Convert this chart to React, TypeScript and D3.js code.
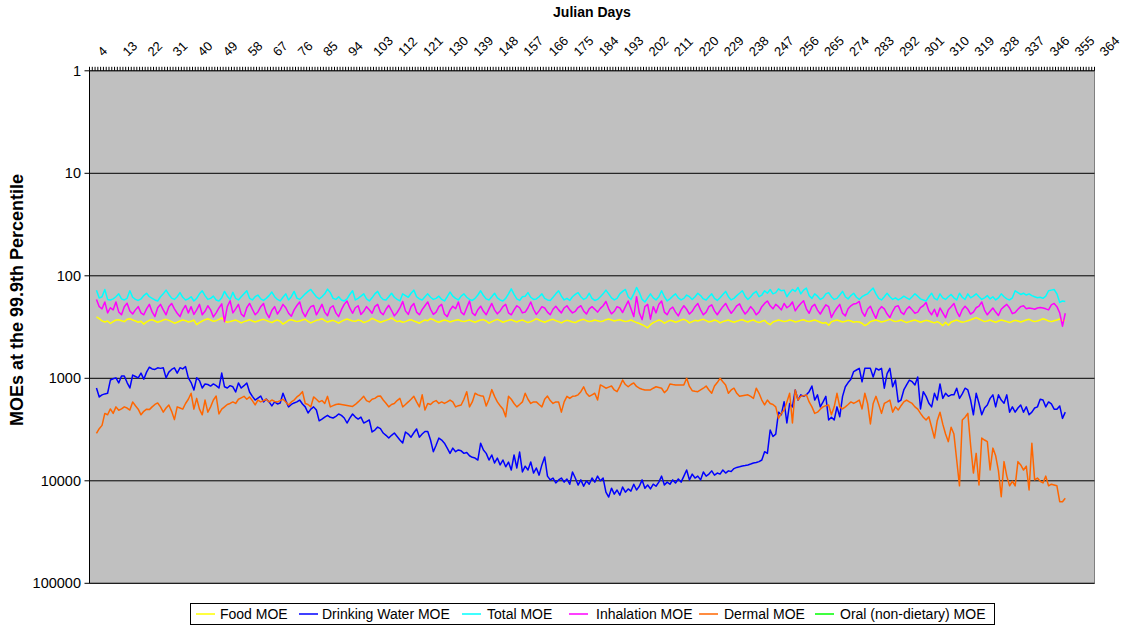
import React from 'react';
import * as d3 from 'd3';

// Julian day categories on the top axis (labels every 9th day)
const dayLabels = [4, 13, 22, 31, 40, 49, 58, 67, 76, 85, 94, 103, 112, 121, 130, 139, 148, 157, 166, 175, 184, 193, 202, 211, 220, 229, 238, 247, 256, 265, 274, 283, 292, 301, 310, 319, 328, 337, 346, 355, 364];
const firstCategory = 4;
const lastCategory = 364;
const firstDataDay = 6;

const yTicks = [1, 10, 100, 1000, 10000, 100000];

const foodMoe = [
  252, 262, 275, 282, 276, 292, 280, 270, 268, 274,
  280, 266, 262, 270, 276, 284, 278, 296, 282, 272,
  268, 276, 284, 278, 270, 266, 272, 280, 290, 284,
  276, 270, 274, 282, 278, 270, 300, 286, 276, 268,
  262, 270, 278, 274, 266, 258, 276, 284, 280, 274,
  270, 278, 288, 280, 274, 268, 276, 282, 276, 270,
  266, 272, 280, 286, 276, 270, 278, 296, 284, 272,
  268, 274, 280, 276, 270, 266, 278, 288, 280, 272,
  268, 262, 274, 282, 276, 272, 280, 290, 278, 270,
  264, 270, 276, 278, 270, 274, 286, 280, 272,
  260, 268, 276, 284, 278, 272, 266, 258, 270, 280,
  276, 284, 280, 272, 268, 276, 282, 290, 278, 270,
  274, 262, 268, 278, 284, 276, 270, 274, 282, 276,
  272, 268, 276, 280, 274, 270, 278, 284, 276, 270,
  268, 276, 290, 280, 272, 266, 274, 284, 278, 272,
  268, 276, 282, 274, 270, 278, 286, 280, 272, 262,
  270, 278, 284, 276, 270, 266, 274, 280, 288, 278,
  272, 276, 282, 286, 276, 270, 266, 274, 280, 276,
  270, 274, 280, 276, 268, 264, 270, 276, 272, 268,
  274, 280, 276, 270, 278, 286, 292, 300, 310, 322,
  300, 286, 278, 270, 276, 290, 280, 272, 276, 284,
  278, 270, 266, 274, 288, 280, 272, 276, 270, 266,
  274, 282, 278, 270, 276, 288, 280, 274, 270, 278,
  284, 278, 272, 268, 276, 282, 274, 270, 280, 286,
  278, 272, 290, 300, 282, 276, 270, 274, 280, 276,
  270, 274, 282, 278, 272, 268, 276, 280, 274, 270,
  276, 284, 290, 286, 304, 280, 274, 270, 276, 282,
  278, 272, 276, 284, 280, 282, 290, 306, 296,
  280, 274, 270, 276, 282, 278, 272, 266, 274, 280,
  276, 270, 278, 286, 280, 274, 270, 276, 284, 278,
  272, 276, 282, 288, 280, 290, 306, 284, 304, 282,
  276, 270, 278, 284, 280, 274, 268, 262, 256, 264,
  272, 280, 276, 270, 278, 284, 276, 270, 274, 280,
  286, 278, 272, 276, 282, 276, 270, 266, 274, 280,
  276, 270, 262, 268, 276, 280, 274, 270, 264, 276,
  272,
];

const drinkingWaterMoe = [
  1244, 1520, 1450, 1420, 1400, 1040, 1010, 990, 1110, 950,
  950, 1100, 1244, 930, 960, 990, 890, 1020, 870, 780,
  810, 820, 790, 800, 790, 990, 870, 820, 790, 890,
  790, 810, 770, 990, 1100, 1300, 990, 1050, 1244, 1136,
  1150, 1190, 1136, 1180, 1244, 890, 1210, 1244, 1180, 1210,
  1360, 1110, 1244, 1180, 1110, 1360, 1500, 1630, 1560, 1490,
  1700, 1590, 1700, 1860, 1700, 1780, 1740, 1400, 1650, 1900,
  1800, 1740, 1700, 1630, 1780, 1900, 2180, 2000, 1900, 2040,
  2600, 2500, 2390, 2300, 2400, 2440, 2350, 2230, 2300, 2440,
  2730, 2450, 2230, 2390, 2500, 2390, 2730, 2650, 2550,
  3340, 3200, 2990, 3100, 3420, 3600, 3830, 3600, 3420, 3700,
  4000, 4280, 3340, 3500, 3750, 3400, 3120, 3750, 3500, 3300,
  3300, 4000, 5200, 4500, 3830, 4000, 4300, 4800, 5400, 4800,
  5200, 5000, 5100, 5400, 5300, 5700, 5900, 6000, 6270, 4300,
  5000, 5400, 6270, 5600, 6700, 6000, 7000, 6270, 7300, 6560,
  7850, 5600, 7500, 5240, 8200, 7200, 7850, 6560, 8400, 7500,
  8800, 7000, 5850, 9000, 9800, 9400, 10500, 9800, 9400, 10300,
  9600, 10800, 8200, 9400, 11000, 9800, 11300, 10000, 10800, 9400,
  10300, 9000, 10000, 9400, 12900, 14400, 11800, 13500, 12300, 13800,
  11500, 12900, 12000, 12600, 10800, 12300, 11300, 9800, 11800, 11000,
  12000, 10800, 11300, 10300, 9000, 11000, 10300, 10800, 9800, 10500,
  9600, 10300, 9000, 7850, 9800, 8600, 9400, 9000, 9800, 8200,
  9000, 8600, 8000, 8800, 8400, 8600, 7850, 8400, 8000, 8100,
  7600, 7400, 7300, 7180, 7100, 7000, 6860, 6700, 6630, 6500,
  6270, 5200, 5400, 3200, 3700, 3500, 2140, 2270, 1690, 2730,
  1760, 1900, 1300, 1630, 1450, 1500, 1450, 1350, 1190, 1630,
  1450, 1900, 1700, 1500, 2550, 2400, 2550, 1900, 2370, 1500,
  1210, 1100, 1020, 860, 830, 800, 1080, 800, 800,
  800, 970, 800, 830, 800, 1250, 900, 800, 1210, 1040,
  1700, 1630, 1300, 1160, 1040, 1080, 1160, 970, 1990, 1350,
  1500, 1750, 1900, 1400, 1630, 1136, 1570, 1400, 1500, 1450,
  1450, 1250, 1570, 1420, 1250, 1300, 1630, 2270, 1400, 1750,
  2270, 1950, 1820, 1570, 1450, 1900, 1450, 1630, 1750, 1450,
  2140, 1900, 2140, 1950, 1820, 2140, 1900, 2270, 2140, 1950,
  1900, 1600, 1630, 1900, 1700, 1780, 2000, 2000, 1860, 2460,
  2140,
];

const totalMoe = [
  138, 165, 160, 136, 170, 172, 168, 160, 150, 168,
  172, 166, 140, 162, 170, 174, 168, 156, 148, 160,
  166, 172, 176, 160, 150, 138, 152, 165, 170, 160,
  146, 162, 172, 168, 160, 176, 166, 150, 140, 156,
  170, 166, 158, 172, 176, 164, 142, 158, 170, 145,
  166, 172, 160, 150, 140, 166, 172, 160, 154, 168,
  174, 166, 156, 144, 160, 170, 176, 162, 150, 172,
  160, 142, 165, 170, 160, 150, 142, 136, 148, 160,
  168, 160, 150, 135, 146, 166, 170, 160, 172, 176,
  168, 152, 140, 172, 166, 158, 150, 168, 176,
  164, 150, 142, 160, 170, 172, 160, 148, 162, 170,
  176, 150, 156, 162, 148, 138, 160, 168, 172, 160,
  150, 162, 170, 166, 158, 170, 176, 160, 144, 158,
  166, 172, 158, 150, 162, 170, 174, 166, 154, 140,
  156, 168, 172, 160, 148, 164, 172, 176, 166, 150,
  134, 152, 168, 174, 160, 158, 146, 162, 170, 168,
  160, 150, 166, 172, 174, 162, 150, 140, 158, 172,
  166, 174, 160, 152, 146, 160, 170, 164, 148, 166,
  174, 170, 160, 150, 138, 150, 164, 172, 166, 150,
  142, 136, 160, 170, 150, 130, 146, 170, 180, 164,
  150, 164, 172, 160, 140, 160, 176, 168, 158, 150,
  164, 172, 166, 154, 160, 170, 160, 148, 156, 168,
  172, 160, 150, 166, 174, 164, 152, 142, 160, 172,
  166, 156, 148, 140, 158, 170, 160, 148, 142, 160,
  154, 140, 148, 136, 150, 146, 134, 140, 138, 160,
  146, 136, 142, 130, 150, 138, 132, 156, 166, 150,
  158, 170, 164, 150, 146, 160, 170, 166, 154, 142,
  160, 168, 156, 148, 162, 170, 160, 154, 150,
  140, 132, 150, 166, 172, 160, 148, 160, 170, 164,
  172, 166, 158, 164, 170, 160, 150, 158, 168, 172,
  176, 160, 148, 166, 172, 150, 164, 170, 160, 152,
  164, 172, 148, 162, 170, 150, 164, 158, 150, 160,
  170, 164, 156, 168, 160, 172, 164, 150, 160, 168,
  172, 164, 140, 146, 152, 148, 154, 150, 156, 160,
  164, 162, 166, 158, 140, 138, 136, 150, 182, 176,
  178,
];

const inhalationMoe = [
  170, 200, 210, 180, 230, 205, 215, 180, 225, 240,
  200, 185, 220, 236, 215, 200, 230, 240, 210, 190,
  225, 250, 205, 190, 215, 240, 200, 186, 210, 232,
  250, 215, 195, 230, 200, 238, 215, 190, 240, 222,
  196, 215, 252, 230, 206, 188, 280, 200, 175, 230,
  210, 190, 236, 250, 205, 186, 212, 240, 225, 200,
  186, 230, 256, 218, 200, 236, 215, 190, 205, 232,
  248, 215, 195, 180, 225, 250, 220, 200, 195, 240,
  215, 190, 226, 245, 205, 196, 230, 250, 214, 190,
  176, 206, 232, 205, 196, 238, 222, 200, 214,
  232, 200, 190, 226, 240, 212, 194, 218, 246, 228,
  206, 178, 220, 238, 200, 186, 226, 240, 214, 196,
  180, 212, 238, 226, 200, 190, 236, 250, 216, 198,
  210, 180, 226, 240, 205, 176, 230, 244, 214, 198,
  222, 240, 210, 186, 215, 235, 220, 200, 190, 230,
  240, 215, 196, 205, 230, 226, 205, 180, 212, 238,
  220, 200, 206, 226, 240, 212, 198, 215, 230, 206,
  196, 215, 230, 222, 204, 196, 220, 236, 210, 200,
  212, 226, 208, 196, 178, 210, 235, 222, 200, 206,
  228, 200, 176, 210, 250, 160, 230, 268, 200, 190,
  265, 200, 230, 190, 176, 226, 240, 212, 202, 226,
  246, 215, 196, 212, 236, 222, 200, 186, 215, 240,
  226, 200, 192, 220, 240, 218, 200, 186, 210, 232,
  215, 196, 188, 214, 236, 220, 200, 215, 240, 226,
  200, 186, 176, 196, 210, 190, 200, 215, 186, 205,
  196, 180, 220, 200, 186, 175, 210, 232, 200, 190,
  216, 236, 212, 192, 200, 255, 226, 206, 190, 232,
  246, 210, 196, 188, 186, 178, 225, 248, 212,
  198, 230, 260, 216, 200, 210, 236, 255, 222, 200,
  196, 226, 238, 212, 200, 215, 232, 226, 204, 196,
  182, 220, 240, 212, 250, 206, 230, 256, 214, 200,
  186, 222, 250, 214, 198, 212, 236, 226, 205, 198,
  180, 216, 240, 222, 206, 226, 244, 212, 200, 190,
  206, 234, 228, 212, 200, 196, 210, 206, 208, 212,
  206, 204, 206, 210, 215, 192, 186, 200, 230, 310,
  232,
];

const dermalMoe = [
  3450, 3100, 2880, 2200, 2270, 1990, 2200, 1900, 2050, 1990,
  1900, 1950, 2040, 1700, 1850, 2000, 2270, 2100, 2000, 2020,
  1900, 1800, 1740, 1900, 2140, 1950, 1820, 2100, 2530, 1900,
  1950, 2000, 1760, 1600, 1400, 2000, 1570, 2000, 2270, 1630,
  2140, 1900, 1630, 1490, 2230, 2000, 1900, 1800, 1760, 1700,
  1760, 1600, 1550, 1500, 1600, 1520, 1650, 1820, 1630, 1700,
  1650, 1600, 1700, 1630, 1680, 1700, 1650, 1600, 1700, 1820,
  1700, 1630, 1520, 1450, 1350, 1760, 1800, 1900, 1520, 1600,
  1700, 1650, 1760, 1500, 1900, 1850, 1800, 1780, 1800, 1820,
  1840, 1860, 1880, 1800, 1700, 1600, 1500, 1650, 1700,
  1600, 1570, 1500, 1490, 1630, 1750, 1900, 1800, 1760, 1650,
  1570, 1900, 1800, 1700, 1600, 1500, 1700, 1900, 1450, 2040,
  1760, 1800, 1700, 1650, 1760, 1700, 1760, 1700, 1630, 1700,
  1900, 1850, 1820, 1600, 1350, 1900, 1700, 1400, 1450, 1480,
  1500, 1860, 1600, 1290, 1500, 1700, 1850, 1990, 2370, 1500,
  1600, 1760, 1900, 1800, 1700, 1400, 1600, 1760, 1700, 1700,
  1800, 1900, 1600, 1490, 1650, 1760, 1700, 1700, 2140, 1700,
  1500, 1570, 1500, 1490, 1450, 1350, 1210, 1400, 1500, 1450,
  1400, 1630, 1160, 1200, 1250, 1220, 1190, 1300, 1350, 1200,
  1040, 1150, 1210, 1150, 1110, 1200, 1250, 1280, 1300, 1300,
  1300, 1250, 1210, 1230, 1250, 1380, 1300, 1136, 1150, 1160,
  1160, 1160, 1160, 1000, 1200, 1320, 1340, 1350, 1300, 1250,
  1190, 1300, 1400, 1190, 1100, 1000, 1080, 1160, 1400, 1300,
  1250, 1400, 1500, 1480, 1460, 1450, 1500, 1570, 1250, 1400,
  1630, 1820, 1630, 1760, 1800, 1900, 2460, 2200, 2040, 1700,
  1400, 2730, 1300, 1630, 1500, 1480, 1450, 1700, 1900, 2200,
  2140, 2000, 1900, 1850, 1820, 2270, 1900, 1400, 1900, 1990,
  1900, 1800, 1700, 1760, 1700, 1630, 1990, 1400, 1760,
  2790, 1760, 1500, 1800, 2200, 1760, 1700, 1630, 2140, 1900,
  2040, 1850, 1700, 1630, 1700, 1760, 1900, 2000, 2200, 2400,
  2550, 2370, 3000, 3830, 2600, 2140, 2800, 3500, 4150, 3000,
  3500, 6270, 11200, 2550, 2400, 2200, 4500, 8400, 5400, 11000,
  3830, 4000, 4150, 7850, 4800, 5700, 8000, 14300, 6500, 9000,
  11200, 10100, 11200, 6500, 7000, 7850, 7200, 12300, 4300, 9800,
  9400, 10100, 10500, 9000, 11200, 10800, 11000, 11200, 16000, 16000,
  14800,
];

// no points of this series fall inside the plotted range
const oralMoe: number[] = [];

const series = [
  { name: 'Food MOE', color: '#FFFF00', values: foodMoe, lx: 196, tx: 220 },
  { name: 'Drinking Water MOE', color: '#0000FF', values: drinkingWaterMoe, lx: 299, tx: 322 },
  { name: 'Total MOE', color: '#00FFFF', values: totalMoe, lx: 462, tx: 487 },
  { name: 'Inhalation MOE', color: '#FF00FF', values: inhalationMoe, lx: 569, tx: 596 },
  { name: 'Dermal MOE', color: '#FF6600', values: dermalMoe, lx: 699, tx: 724 },
  { name: 'Oral (non-dietary) MOE', color: '#00FF00', values: oralMoe, lx: 815, tx: 840 },
];

const W = 1125;
const H = 629;
const plot = { left: 89.5, right: 1094.5, top: 70.8, bottom: 583.3 };
const font = '"Liberation Sans", Arial, sans-serif';

const App: React.FC = () => {
  const x = d3.scaleLinear()
    .domain([firstCategory - 0.5, lastCategory + 0.5])
    .range([plot.left, plot.right]);
  const y = d3.scaleLog()
    .domain([1, 100000])
    .range([plot.top, plot.bottom]);

  const line = d3.line<number>()
    .x((_, i) => x(firstDataDay + i))
    .y(v => y(v));

  // tick marks sit between categories
  const boundaries = d3.range(firstCategory - 0.5, lastCategory + 1, 1);

  return (
    <svg width={W} height={H} fontFamily={font}
      style={{ position: 'absolute', left: 0, top: 0, display: 'block', background: '#fff' }}>
      <rect x={plot.left} y={plot.top} width={plot.right - plot.left} height={plot.bottom - plot.top}
        fill="#C0C0C0" stroke="#808080" strokeWidth={1} />

      {yTicks.slice(1).map(t => (
        <line key={t} x1={plot.left} x2={plot.right} y1={y(t)} y2={y(t)} stroke="#000" strokeWidth={1} />
      ))}

      {series.filter(s => s.values.length > 0).map(s => (
        <path key={s.name} d={line(s.values) ?? ''} fill="none" stroke={s.color}
          strokeWidth={1.5} strokeLinejoin="round" />
      ))}

      {/* y axis */}
      <line x1={plot.left} x2={plot.left} y1={plot.top} y2={plot.bottom} stroke="#000" />
      {yTicks.map(t => (
        <g key={t}>
          <line x1={plot.left - 5} x2={plot.left} y1={y(t)} y2={y(t)} stroke="#000" />
          <text x={81} y={y(t) + 5} textAnchor="end" fontSize={14.5}>{t}</text>
        </g>
      ))}
      <text transform={`translate(23,300) rotate(-90)`} textAnchor="middle" fontSize={18} fontWeight="bold">
        MOEs at the 99.9th Percentile
      </text>

      {/* top category axis */}
      <line x1={plot.left} x2={plot.right} y1={plot.top} y2={plot.top} stroke="#000" />
      {boundaries.map(b => (
        <line key={b} x1={x(b)} x2={x(b)} y1={plot.top - 4} y2={plot.top} stroke="#000" strokeWidth={1} />
      ))}
      {dayLabels.map(d => (
        <text key={d} transform={`translate(${x(d) + 12},57) rotate(-45)`} fontSize={13}>{d}</text>
      ))}
      <text x={592} y={17} textAnchor="middle" fontSize={14} fontWeight="bold">Julian Days</text>

      {/* legend */}
      <rect x={190.5} y={603.5} width={804} height={21} fill="#fff" stroke="#000" />
      {series.map(s => (
        <g key={s.name}>
          <line x1={s.lx} x2={s.lx + 19} y1={614} y2={614} stroke={s.color} strokeWidth={1.5} />
          <text x={s.tx} y={619} fontSize={14}>{s.name}</text>
        </g>
      ))}
    </svg>
  );
};

export default App;
